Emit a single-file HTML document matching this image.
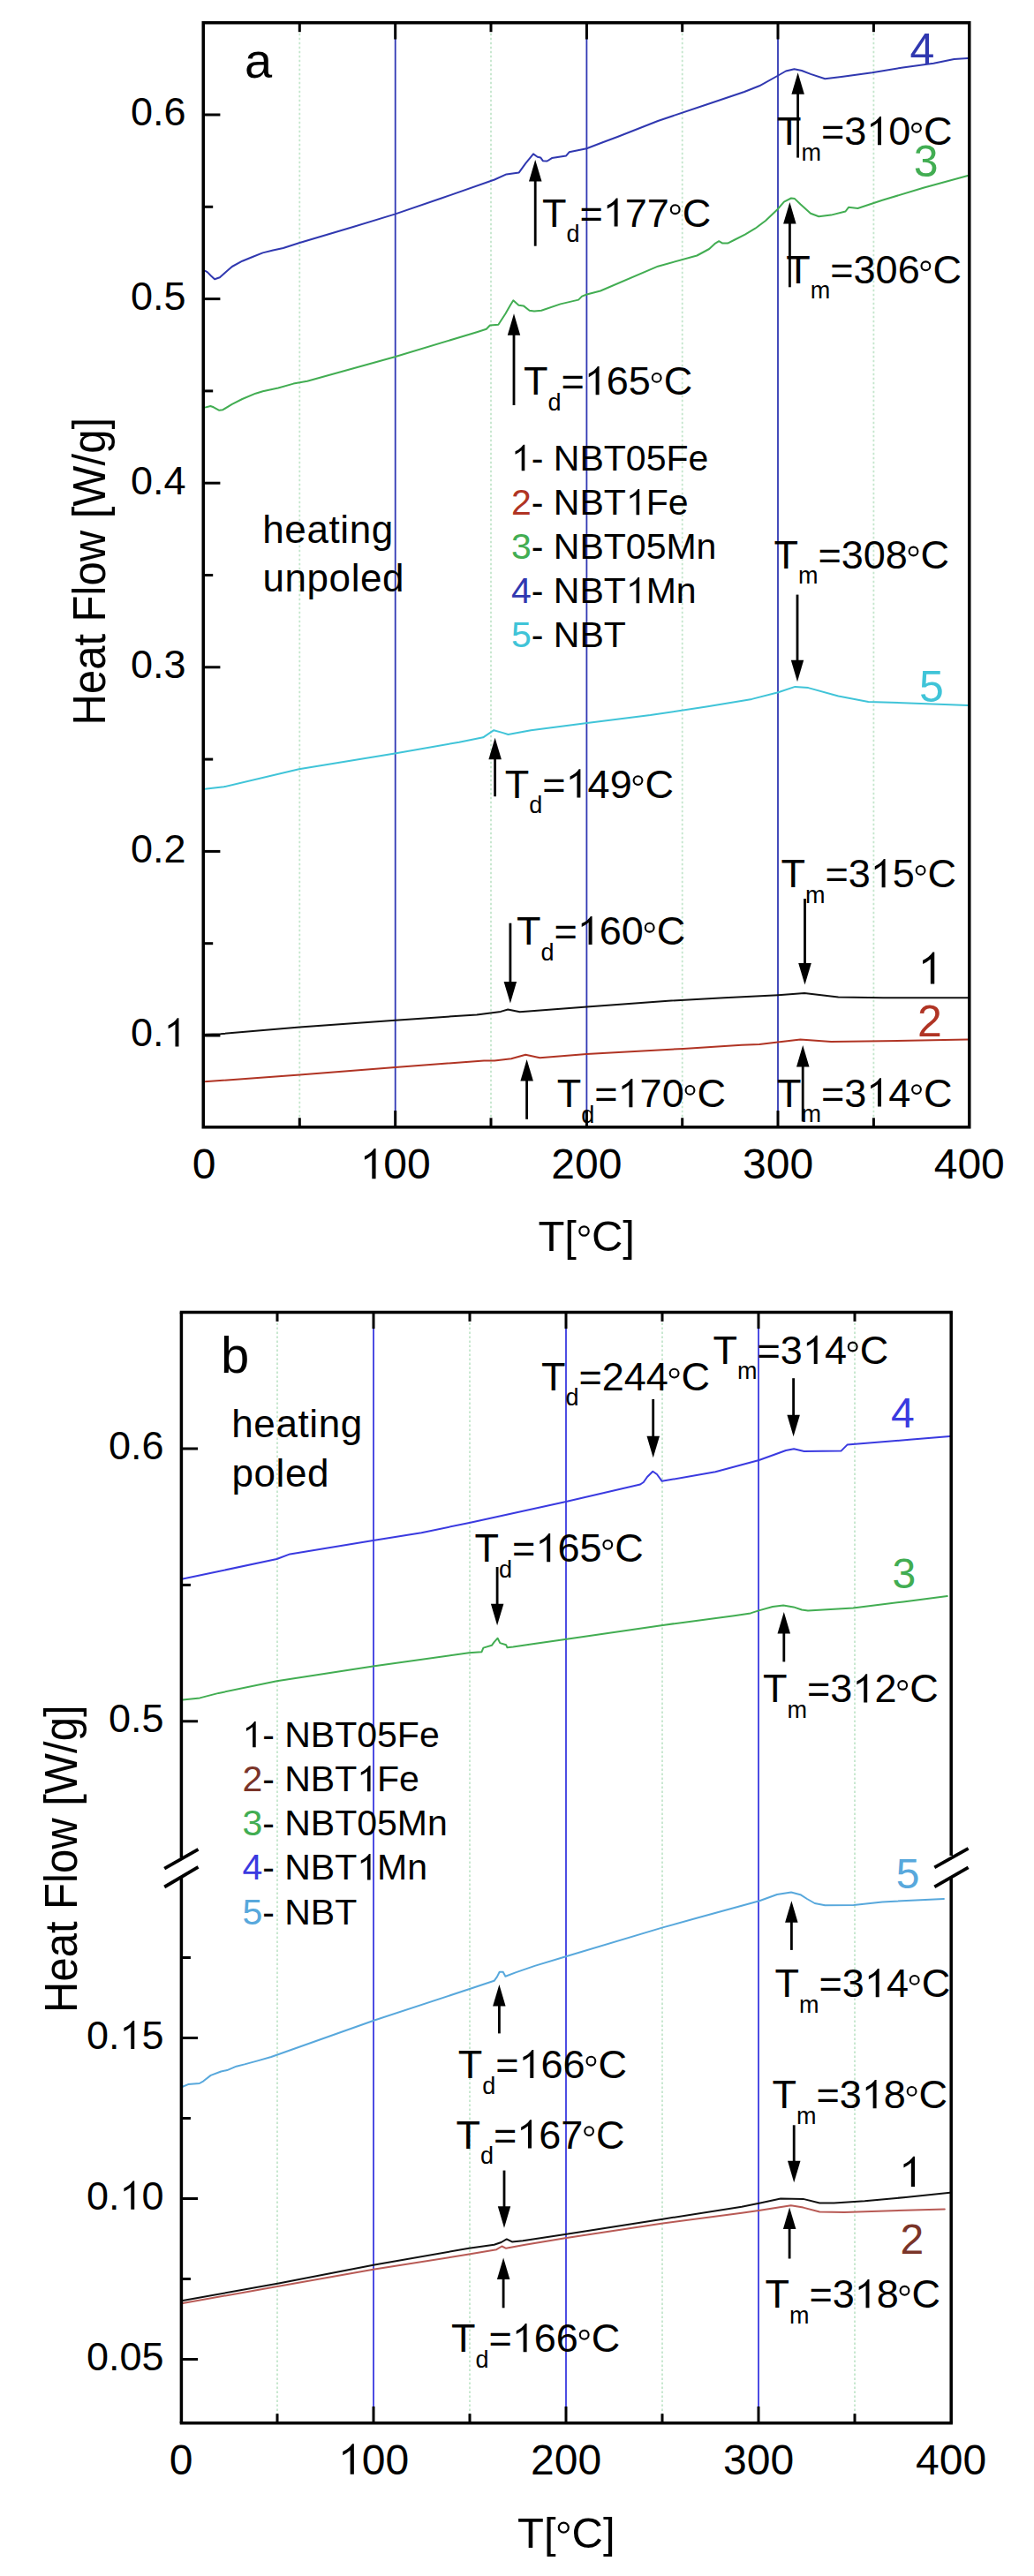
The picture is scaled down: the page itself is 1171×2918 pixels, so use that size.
<!DOCTYPE html>
<html><head><meta charset="utf-8"><style>
html,body{margin:0;padding:0;background:#fff;}
svg{display:block;}
text{font-family:"Liberation Sans", sans-serif;font-kerning:none;}
</style></head><body>
<svg width="1171" height="2918" viewBox="0 0 1171 2918">
<rect x="0" y="0" width="1171" height="2918" fill="#fff"/>
<line x1="339.3" y1="27.8" x2="339.3" y2="1274.8" stroke="#c4e6cc" stroke-width="1.8" stroke-dasharray="2.5 2.5"/>
<line x1="556.0" y1="27.8" x2="556.0" y2="1274.8" stroke="#c4e6cc" stroke-width="1.8" stroke-dasharray="2.5 2.5"/>
<line x1="772.7" y1="27.8" x2="772.7" y2="1274.8" stroke="#c4e6cc" stroke-width="1.8" stroke-dasharray="2.5 2.5"/>
<line x1="989.4" y1="27.8" x2="989.4" y2="1274.8" stroke="#c4e6cc" stroke-width="1.8" stroke-dasharray="2.5 2.5"/>
<line x1="447.7" y1="25.8" x2="447.7" y2="1276.8" stroke="#3038b4" stroke-width="1.8"/>
<line x1="664.4" y1="25.8" x2="664.4" y2="1276.8" stroke="#3038b4" stroke-width="1.8"/>
<line x1="881.0" y1="25.8" x2="881.0" y2="1276.8" stroke="#3038b4" stroke-width="1.8"/>
<polyline points="232.0,893.8 253.5,891.3 338.6,871.3 447.1,853.4 520.0,840.7 547.1,835.3 555.2,829.9 559.3,827.2 568.7,829.9 575.5,832.0 601.2,827.2 664.9,819.0 736.6,810.1 800.0,800.6 851.5,791.9 881.3,784.3 900.4,777.9 915.3,779.1 949.4,788.5 983.4,794.9 1043.0,797.0 1096.0,799.1" fill="none" stroke="#40c4d8" stroke-width="2.0" stroke-linejoin="round" stroke-linecap="round"/>
<polyline points="231.5,1225.3 339.4,1217.6 447.7,1209.0 548.0,1201.5 560.0,1201.4 579.0,1199.3 595.2,1194.7 611.4,1198.2 664.3,1193.9 773.9,1187.9 840.0,1183.8 860.0,1182.9 880.9,1180.6 906.4,1177.6 941.2,1179.9 999.3,1179.2 1096.0,1177.6" fill="none" stroke="#b03424" stroke-width="2.0" stroke-linejoin="round" stroke-linecap="round"/>
<polyline points="232.6,1171.8 249.7,1171.2 339.4,1163.4 447.7,1155.7 540.0,1149.4 567.1,1145.9 575.2,1143.5 588.7,1146.2 664.6,1140.5 756.6,1133.7 820.0,1130.2 881.3,1127.2 911.0,1125.1 949.4,1129.4 1000.4,1130.2 1096.0,1130.2" fill="none" stroke="#111" stroke-width="2.0" stroke-linejoin="round" stroke-linecap="round"/>
<polyline points="232.0,461.6 238.4,460.0 241.9,461.3 248.3,464.8 252.4,464.2 262.8,457.9 274.4,452.0 289.5,445.7 297.6,443.3 315.0,439.5 332.4,434.6 348.0,431.7 447.1,404.3 540.0,376.2 550.8,372.8 554.9,368.5 564.4,367.7 572.5,355.2 577.9,345.7 581.3,340.3 587.4,345.7 592.8,346.4 599.6,351.8 605.0,352.5 613.1,351.8 634.8,344.4 655.1,339.6 659.1,335.6 664.6,333.5 680.0,329.5 745.1,301.7 789.3,289.5 803.2,282.0 810.2,275.6 814.2,273.2 818.3,275.6 824.1,275.6 832.2,271.5 843.8,265.7 855.4,258.7 867.0,250.0 881.0,236.7 887.9,228.6 896.0,224.5 900.0,225.1 906.4,231.3 918.0,241.8 927.3,245.3 941.2,243.6 957.5,239.5 961.0,234.8 971.4,236.0 999.3,226.7 1045.7,212.8 1096.0,199.0" fill="none" stroke="#42ad52" stroke-width="2.0" stroke-linejoin="round" stroke-linecap="round"/>
<polyline points="232.0,306.7 235.0,308.4 239.0,312.5 243.1,316.2 248.9,314.2 255.9,307.9 262.8,302.0 274.4,295.7 286.0,291.0 297.6,286.4 309.2,283.5 320.8,281.0 338.6,275.3 400.0,257.0 447.1,242.6 500.0,224.5 560.0,203.5 573.5,197.4 587.8,195.4 595.2,185.2 604.0,174.4 608.7,177.8 612.1,178.4 614.8,182.2 619.6,182.5 625.0,179.1 641.2,176.4 644.6,172.3 664.3,168.3 681.9,161.5 700.0,154.7 745.1,137.0 800.0,118.5 843.0,104.0 860.0,97.3 881.3,85.5 890.0,80.5 899.5,78.3 908.0,80.0 918.0,83.9 934.3,89.2 952.9,86.9 987.7,82.2 1022.5,76.4 1057.3,71.8 1080.5,67.1 1096.0,66.0" fill="none" stroke="#3038b0" stroke-width="2.0" stroke-linejoin="round" stroke-linecap="round"/>
<rect x="230.25" y="25.75" width="867.5" height="1251.05" fill="none" stroke="#000" stroke-width="3.5"/>
<line x1="339.3" y1="25.8" x2="339.3" y2="36.2" stroke="#000" stroke-width="3"/>
<line x1="339.3" y1="1276.8" x2="339.3" y2="1266.3" stroke="#000" stroke-width="3"/>
<line x1="447.7" y1="25.8" x2="447.7" y2="44.5" stroke="#000" stroke-width="3"/>
<line x1="447.7" y1="1276.8" x2="447.7" y2="1258.1" stroke="#000" stroke-width="3"/>
<line x1="556.0" y1="25.8" x2="556.0" y2="36.2" stroke="#000" stroke-width="3"/>
<line x1="556.0" y1="1276.8" x2="556.0" y2="1266.3" stroke="#000" stroke-width="3"/>
<line x1="664.4" y1="25.8" x2="664.4" y2="44.5" stroke="#000" stroke-width="3"/>
<line x1="664.4" y1="1276.8" x2="664.4" y2="1258.1" stroke="#000" stroke-width="3"/>
<line x1="772.7" y1="25.8" x2="772.7" y2="36.2" stroke="#000" stroke-width="3"/>
<line x1="772.7" y1="1276.8" x2="772.7" y2="1266.3" stroke="#000" stroke-width="3"/>
<line x1="881.0" y1="25.8" x2="881.0" y2="44.5" stroke="#000" stroke-width="3"/>
<line x1="881.0" y1="1276.8" x2="881.0" y2="1258.1" stroke="#000" stroke-width="3"/>
<line x1="989.4" y1="25.8" x2="989.4" y2="36.2" stroke="#000" stroke-width="3"/>
<line x1="989.4" y1="1276.8" x2="989.4" y2="1266.3" stroke="#000" stroke-width="3"/>
<line x1="230.2" y1="1173.0" x2="249.4" y2="1173.0" stroke="#000" stroke-width="3"/>
<line x1="230.2" y1="1068.7" x2="241.2" y2="1068.7" stroke="#000" stroke-width="3"/>
<line x1="230.2" y1="964.4" x2="249.4" y2="964.4" stroke="#000" stroke-width="3"/>
<line x1="230.2" y1="860.1" x2="241.2" y2="860.1" stroke="#000" stroke-width="3"/>
<line x1="230.2" y1="755.8" x2="249.4" y2="755.8" stroke="#000" stroke-width="3"/>
<line x1="230.2" y1="651.5" x2="241.2" y2="651.5" stroke="#000" stroke-width="3"/>
<line x1="230.2" y1="547.2" x2="249.4" y2="547.2" stroke="#000" stroke-width="3"/>
<line x1="230.2" y1="442.9" x2="241.2" y2="442.9" stroke="#000" stroke-width="3"/>
<line x1="230.2" y1="338.6" x2="249.4" y2="338.6" stroke="#000" stroke-width="3"/>
<line x1="230.2" y1="234.3" x2="241.2" y2="234.3" stroke="#000" stroke-width="3"/>
<line x1="230.2" y1="130.0" x2="249.4" y2="130.0" stroke="#000" stroke-width="3"/>
<text x="148.1" y="142.4" font-size="45" fill="#000">0.6</text>
<text x="148.1" y="351.0" font-size="45" fill="#000">0.5</text>
<text x="148.1" y="559.6" font-size="45" fill="#000">0.4</text>
<text x="148.1" y="768.2" font-size="45" fill="#000">0.3</text>
<text x="148.1" y="976.8" font-size="45" fill="#000">0.2</text>
<path d="M.373 0L.285 0L.285 .56Q.2 .49 .11 .448L.11 .533Q.26 .6 .335 .716L.373 .716Z" fill="#000" transform="translate(185.67,1185.40) scale(45,-45)"/>
<text x="148.1" y="1185.4" font-size="45" fill="#000">0. </text>
<text x="217.7" y="1335.3" font-size="48" fill="#000">0</text>
<path d="M.373 0L.285 0L.285 .56Q.2 .49 .11 .448L.11 .533Q.26 .6 .335 .716L.373 .716Z" fill="#000" transform="translate(407.64,1335.30) scale(48,-48)"/>
<text x="407.6" y="1335.3" font-size="48" fill="#000"> 00</text>
<text x="624.3" y="1335.3" font-size="48" fill="#000">200</text>
<text x="841.0" y="1335.3" font-size="48" fill="#000">300</text>
<text x="1057.7" y="1335.3" font-size="48" fill="#000">400</text>
<text x="614.0" y="256.6" font-size="45" fill="#000">T</text>
<text x="641.5" y="274.0" font-size="27" fill="#000">d</text>
<path d="M.373 0L.285 0L.285 .56Q.2 .49 .11 .448L.11 .533Q.26 .6 .335 .716L.373 .716Z" fill="#000" transform="translate(682.79,256.60) scale(45,-45)"/>
<text x="656.5" y="256.6" font-size="45" fill="#000">= 77</text>
<circle cx="764.7" cy="237.2" r="4.9" fill="none" stroke="#000" stroke-width="2.1"/>
<text x="772.7" y="256.6" font-size="45" fill="#000">C</text>
<text x="879.9" y="164.2" font-size="45" fill="#000">T</text>
<text x="907.4" y="181.6" font-size="27" fill="#000">m</text>
<path d="M.373 0L.285 0L.285 .56Q.2 .49 .11 .448L.11 .533Q.26 .6 .335 .716L.373 .716Z" fill="#000" transform="translate(981.20,164.20) scale(45,-45)"/>
<text x="929.9" y="164.2" font-size="45" fill="#000">=3 0</text>
<circle cx="1038.0" cy="144.8" r="4.9" fill="none" stroke="#000" stroke-width="2.1"/>
<text x="1046.0" y="164.2" font-size="45" fill="#000">C</text>
<text x="890.3" y="320.7" font-size="45" fill="#000">T</text>
<text x="917.8" y="338.1" font-size="27" fill="#000">m</text>
<text x="940.3" y="320.7" font-size="45" fill="#000">=306</text>
<circle cx="1048.4" cy="301.3" r="4.9" fill="none" stroke="#000" stroke-width="2.1"/>
<text x="1056.4" y="320.7" font-size="45" fill="#000">C</text>
<text x="593.0" y="447.3" font-size="45" fill="#000">T</text>
<text x="620.5" y="464.7" font-size="27" fill="#000">d</text>
<path d="M.373 0L.285 0L.285 .56Q.2 .49 .11 .448L.11 .533Q.26 .6 .335 .716L.373 .716Z" fill="#000" transform="translate(661.79,447.30) scale(45,-45)"/>
<text x="635.5" y="447.3" font-size="45" fill="#000">= 65</text>
<circle cx="743.7" cy="427.9" r="4.9" fill="none" stroke="#000" stroke-width="2.1"/>
<text x="751.7" y="447.3" font-size="45" fill="#000">C</text>
<text x="876.4" y="643.9" font-size="45" fill="#000">T</text>
<text x="903.9" y="661.3" font-size="27" fill="#000">m</text>
<text x="926.4" y="643.9" font-size="45" fill="#000">=308</text>
<circle cx="1034.5" cy="624.5" r="4.9" fill="none" stroke="#000" stroke-width="2.1"/>
<text x="1042.5" y="643.9" font-size="45" fill="#000">C</text>
<text x="571.8" y="903.5" font-size="45" fill="#000">T</text>
<text x="599.3" y="920.9" font-size="27" fill="#000">d</text>
<path d="M.373 0L.285 0L.285 .56Q.2 .49 .11 .448L.11 .533Q.26 .6 .335 .716L.373 .716Z" fill="#000" transform="translate(640.59,903.50) scale(45,-45)"/>
<text x="614.3" y="903.5" font-size="45" fill="#000">= 49</text>
<circle cx="722.5" cy="884.1" r="4.9" fill="none" stroke="#000" stroke-width="2.1"/>
<text x="730.5" y="903.5" font-size="45" fill="#000">C</text>
<text x="884.5" y="1005.3" font-size="45" fill="#000">T</text>
<text x="912.0" y="1022.7" font-size="27" fill="#000">m</text>
<path d="M.373 0L.285 0L.285 .56Q.2 .49 .11 .448L.11 .533Q.26 .6 .335 .716L.373 .716Z" fill="#000" transform="translate(985.80,1005.30) scale(45,-45)"/>
<text x="934.5" y="1005.3" font-size="45" fill="#000">=3 5</text>
<circle cx="1042.6" cy="985.9" r="4.9" fill="none" stroke="#000" stroke-width="2.1"/>
<text x="1050.6" y="1005.3" font-size="45" fill="#000">C</text>
<text x="585.0" y="1070.1" font-size="45" fill="#000">T</text>
<text x="612.5" y="1087.5" font-size="27" fill="#000">d</text>
<path d="M.373 0L.285 0L.285 .56Q.2 .49 .11 .448L.11 .533Q.26 .6 .335 .716L.373 .716Z" fill="#000" transform="translate(653.79,1070.10) scale(45,-45)"/>
<text x="627.5" y="1070.1" font-size="45" fill="#000">= 60</text>
<circle cx="735.7" cy="1050.7" r="4.9" fill="none" stroke="#000" stroke-width="2.1"/>
<text x="743.7" y="1070.1" font-size="45" fill="#000">C</text>
<text x="630.8" y="1254.3" font-size="45" fill="#000">T</text>
<text x="658.3" y="1271.7" font-size="27" fill="#000">d</text>
<path d="M.373 0L.285 0L.285 .56Q.2 .49 .11 .448L.11 .533Q.26 .6 .335 .716L.373 .716Z" fill="#000" transform="translate(699.59,1254.30) scale(45,-45)"/>
<text x="673.3" y="1254.3" font-size="45" fill="#000">= 70</text>
<circle cx="781.5" cy="1234.9" r="4.9" fill="none" stroke="#000" stroke-width="2.1"/>
<text x="789.5" y="1254.3" font-size="45" fill="#000">C</text>
<text x="879.9" y="1253.5" font-size="45" fill="#000">T</text>
<text x="907.4" y="1270.9" font-size="27" fill="#000">m</text>
<path d="M.373 0L.285 0L.285 .56Q.2 .49 .11 .448L.11 .533Q.26 .6 .335 .716L.373 .716Z" fill="#000" transform="translate(981.20,1253.50) scale(45,-45)"/>
<text x="929.9" y="1253.5" font-size="45" fill="#000">=3 4</text>
<circle cx="1038.0" cy="1234.1" r="4.9" fill="none" stroke="#000" stroke-width="2.1"/>
<text x="1046.0" y="1253.5" font-size="45" fill="#000">C</text>
<line x1="606.2" y1="278.7" x2="606.2" y2="203.5" stroke="#000" stroke-width="2.8"/>
<polygon points="606.2,181.0 599.0,205.5 613.5,205.5" fill="#000"/>
<line x1="903.6" y1="178.6" x2="903.6" y2="104.7" stroke="#000" stroke-width="2.8"/>
<polygon points="903.6,82.2 896.4,106.7 910.9,106.7" fill="#000"/>
<line x1="894.4" y1="325.3" x2="894.4" y2="251.5" stroke="#000" stroke-width="2.8"/>
<polygon points="894.4,229.0 887.1,253.5 901.6,253.5" fill="#000"/>
<line x1="582.0" y1="459.0" x2="582.0" y2="377.8" stroke="#000" stroke-width="2.8"/>
<polygon points="582.0,355.3 574.8,379.8 589.2,379.8" fill="#000"/>
<line x1="903.0" y1="673.6" x2="903.0" y2="749.7" stroke="#000" stroke-width="2.8"/>
<polygon points="903.0,772.2 895.8,747.7 910.2,747.7" fill="#000"/>
<line x1="560.6" y1="902.2" x2="560.6" y2="858.3" stroke="#000" stroke-width="2.8"/>
<polygon points="560.6,835.8 553.4,860.3 567.9,860.3" fill="#000"/>
<line x1="911.5" y1="1018.0" x2="911.5" y2="1093.0" stroke="#000" stroke-width="2.8"/>
<polygon points="911.5,1115.5 904.2,1091.0 918.8,1091.0" fill="#000"/>
<line x1="577.9" y1="1045.7" x2="577.9" y2="1113.9" stroke="#000" stroke-width="2.8"/>
<polygon points="577.9,1136.4 570.6,1111.9 585.1,1111.9" fill="#000"/>
<line x1="596.6" y1="1267.8" x2="596.6" y2="1222.6" stroke="#000" stroke-width="2.8"/>
<polygon points="596.6,1200.1 589.4,1224.6 603.9,1224.6" fill="#000"/>
<line x1="909.2" y1="1270.4" x2="909.2" y2="1206.4" stroke="#000" stroke-width="2.8"/>
<polygon points="909.2,1183.9 902.0,1208.4 916.5,1208.4" fill="#000"/>
<text x="1030.6" y="73.0" font-size="50" fill="#3038b0">4</text>
<text x="1034.7" y="199.5" font-size="50" fill="#42ad52">3</text>
<text x="1041.0" y="794.9" font-size="50" fill="#40c4d8">5</text>
<path d="M.373 0L.285 0L.285 .56Q.2 .49 .11 .448L.11 .533Q.26 .6 .335 .716L.373 .716Z" fill="#000" transform="translate(1039.60,1114.40) scale(50,-50)"/>
<text x="1039.6" y="1114.4" font-size="50" fill="#000"> </text>
<text x="1039.0" y="1173.6" font-size="50" fill="#b03424">2</text>
<path d="M.373 0L.285 0L.285 .56Q.2 .49 .11 .448L.11 .533Q.26 .6 .335 .716L.373 .716Z" fill="#000" transform="translate(579.00,533.20) scale(41,-41)"/>
<text x="579.0" y="533.2" font-size="41"><tspan fill="#000"> </tspan>- NBT05Fe</text>
<path d="M.373 0L.285 0L.285 .56Q.2 .49 .11 .448L.11 .533Q.26 .6 .335 .716L.373 .716Z" fill="#000" transform="translate(708.85,583.25) scale(41,-41)"/>
<text x="579.0" y="583.2" font-size="41"><tspan fill="#b03424">2</tspan>- NBT Fe</text>
<text x="579.0" y="633.3" font-size="41"><tspan fill="#42ad52">3</tspan>- NBT05Mn</text>
<path d="M.373 0L.285 0L.285 .56Q.2 .49 .11 .448L.11 .533Q.26 .6 .335 .716L.373 .716Z" fill="#000" transform="translate(708.85,683.35) scale(41,-41)"/>
<text x="579.0" y="683.4" font-size="41"><tspan fill="#3038b0">4</tspan>- NBT Mn</text>
<text x="579.0" y="733.4" font-size="41"><tspan fill="#40c4d8">5</tspan>- NBT</text>
<text x="297.3" y="615.1" font-size="44" fill="#000" letter-spacing="0.6">heating</text>
<text x="297.4" y="669.9" font-size="44" fill="#000" letter-spacing="0.6">unpoled</text>
<text x="277.1" y="88.4" font-size="56" fill="#000">a</text>
<text x="609.4" y="1416.9" font-size="49" fill="#000">T[</text>
<circle cx="661.5" cy="1394.5" r="5.2" fill="none" stroke="#000" stroke-width="2.2"/>
<text x="669.9" y="1416.9" font-size="49" fill="#000">C]</text>
<text transform="translate(118.7,821.5) rotate(-90) scale(1,1.045)" x="0" y="0" font-size="49">Heat Flow [W/g]</text>
<line x1="314.0" y1="1488.4" x2="314.0" y2="2742.7" stroke="#c4e6cc" stroke-width="1.8" stroke-dasharray="2.5 2.5"/>
<line x1="532.0" y1="1488.4" x2="532.0" y2="2742.7" stroke="#c4e6cc" stroke-width="1.8" stroke-dasharray="2.5 2.5"/>
<line x1="750.0" y1="1488.4" x2="750.0" y2="2742.7" stroke="#c4e6cc" stroke-width="1.8" stroke-dasharray="2.5 2.5"/>
<line x1="968.0" y1="1488.4" x2="968.0" y2="2742.7" stroke="#c4e6cc" stroke-width="1.8" stroke-dasharray="2.5 2.5"/>
<line x1="423.0" y1="1486.4" x2="423.0" y2="2744.7" stroke="#3a3ae0" stroke-width="1.8"/>
<line x1="641.0" y1="1486.4" x2="641.0" y2="2744.7" stroke="#3a3ae0" stroke-width="1.8"/>
<line x1="859.0" y1="1486.4" x2="859.0" y2="2744.7" stroke="#3a3ae0" stroke-width="1.8"/>
<polyline points="206.7,2363.7 213.1,2361.1 225.9,2360.0 230.5,2357.3 238.7,2350.9 250.3,2346.5 257.2,2345.1 267.7,2340.7 277.0,2338.4 290.9,2334.6 307.1,2330.0 315.6,2327.0 424.1,2288.5 531.1,2253.3 559.6,2243.8 563.0,2239.1 565.7,2233.7 569.7,2233.7 572.4,2238.7 583.9,2234.4 605.6,2226.9 640.0,2216.5 750.6,2183.4 788.9,2172.8 860.0,2153.2 880.0,2146.0 896.0,2143.5 906.4,2146.2 914.0,2151.0 922.7,2156.0 934.3,2158.3 966.8,2157.9 999.3,2154.4 1068.9,2150.9" fill="none" stroke="#58a8dc" stroke-width="2.0" stroke-linejoin="round" stroke-linecap="round"/>
<polyline points="207.0,2609.0 315.6,2589.8 424.1,2570.6 531.1,2553.6 562.3,2548.2 568.4,2544.5 573.1,2546.8 594.8,2542.8 640.0,2535.3 750.6,2518.5 840.0,2506.7 860.9,2503.7 895.7,2498.3 909.6,2500.6 928.2,2505.5 956.1,2506.0 1002.5,2504.4 1069.8,2502.5" fill="none" stroke="#b85a55" stroke-width="2.0" stroke-linejoin="round" stroke-linecap="round"/>
<polyline points="207.0,2606.0 315.6,2586.4 424.1,2565.5 531.1,2546.8 559.6,2542.8 567.7,2540.0 573.8,2536.4 579.9,2539.4 592.1,2538.3 640.0,2531.0 750.6,2513.7 840.0,2499.7 860.9,2495.5 884.1,2490.4 909.6,2490.9 928.2,2495.5 944.5,2495.5 979.3,2493.2 1025.7,2489.0 1076.0,2483.8" fill="none" stroke="#111" stroke-width="2.0" stroke-linejoin="round" stroke-linecap="round"/>
<polyline points="207.0,1925.5 226.3,1923.4 247.6,1917.9 313.5,1904.3 424.1,1887.2 531.1,1872.2 545.4,1871.3 547.4,1866.6 556.9,1863.8 559.6,1860.1 563.6,1855.7 566.3,1861.1 573.1,1863.2 574.5,1866.3 581.2,1865.5 601.5,1862.5 640.0,1857.0 750.6,1840.9 831.5,1830.2 850.0,1827.4 859.3,1824.4 875.0,1820.0 887.1,1818.6 898.7,1820.4 908.0,1823.5 915.0,1824.4 966.1,1821.4 1023.0,1814.5 1072.8,1808.1" fill="none" stroke="#42ad52" stroke-width="2.0" stroke-linejoin="round" stroke-linecap="round"/>
<polyline points="207.0,1788.5 247.6,1780.0 313.5,1766.0 328.4,1760.4 424.1,1744.7 477.3,1736.2 532.7,1724.7 640.0,1701.3 725.1,1681.5 728.8,1679.0 733.0,1673.0 739.3,1666.7 744.0,1670.0 749.7,1677.8 810.2,1667.2 840.0,1659.3 859.6,1654.0 878.3,1647.2 890.0,1643.0 899.1,1641.2 910.7,1644.0 952.5,1643.6 959.5,1636.6 1030.0,1630.8 1076.0,1627.0" fill="none" stroke="#3a3ae0" stroke-width="2.0" stroke-linejoin="round" stroke-linecap="round"/>
<line x1="203.7" y1="1486.4" x2="1078.9" y2="1486.4" stroke="#000" stroke-width="3.5"/>
<line x1="203.7" y1="2744.7" x2="1078.9" y2="2744.7" stroke="#000" stroke-width="3.5"/>
<line x1="205.4" y1="1486.4" x2="205.4" y2="2104.4" stroke="#000" stroke-width="3.5"/>
<line x1="205.4" y1="2127.0" x2="205.4" y2="2744.7" stroke="#000" stroke-width="3.5"/>
<line x1="1077.2" y1="1486.4" x2="1077.2" y2="2102.0" stroke="#000" stroke-width="3.5"/>
<line x1="1077.2" y1="2126.9" x2="1077.2" y2="2744.7" stroke="#000" stroke-width="3.5"/>
<line x1="186.2" y1="2116.6" x2="224.5" y2="2094.8" stroke="#000" stroke-width="3.8"/>
<line x1="186.2" y1="2137.5" x2="224.5" y2="2114.8" stroke="#000" stroke-width="3.8"/>
<line x1="1058.3" y1="2115.3" x2="1096.6" y2="2093.8" stroke="#000" stroke-width="3.8"/>
<line x1="1058.3" y1="2137.3" x2="1096.6" y2="2115.3" stroke="#000" stroke-width="3.8"/>
<line x1="314.0" y1="1486.4" x2="314.0" y2="1496.9" stroke="#000" stroke-width="3"/>
<line x1="314.0" y1="2744.7" x2="314.0" y2="2734.2" stroke="#000" stroke-width="3"/>
<line x1="423.0" y1="1486.4" x2="423.0" y2="1505.1" stroke="#000" stroke-width="3"/>
<line x1="423.0" y1="2744.7" x2="423.0" y2="2726.0" stroke="#000" stroke-width="3"/>
<line x1="532.0" y1="1486.4" x2="532.0" y2="1496.9" stroke="#000" stroke-width="3"/>
<line x1="532.0" y1="2744.7" x2="532.0" y2="2734.2" stroke="#000" stroke-width="3"/>
<line x1="641.0" y1="1486.4" x2="641.0" y2="1505.1" stroke="#000" stroke-width="3"/>
<line x1="641.0" y1="2744.7" x2="641.0" y2="2726.0" stroke="#000" stroke-width="3"/>
<line x1="750.0" y1="1486.4" x2="750.0" y2="1496.9" stroke="#000" stroke-width="3"/>
<line x1="750.0" y1="2744.7" x2="750.0" y2="2734.2" stroke="#000" stroke-width="3"/>
<line x1="859.0" y1="1486.4" x2="859.0" y2="1505.1" stroke="#000" stroke-width="3"/>
<line x1="859.0" y1="2744.7" x2="859.0" y2="2726.0" stroke="#000" stroke-width="3"/>
<line x1="968.0" y1="1486.4" x2="968.0" y2="1496.9" stroke="#000" stroke-width="3"/>
<line x1="968.0" y1="2744.7" x2="968.0" y2="2734.2" stroke="#000" stroke-width="3"/>
<line x1="205.4" y1="1641.0" x2="224.1" y2="1641.0" stroke="#000" stroke-width="3"/>
<line x1="205.4" y1="1795.4" x2="215.9" y2="1795.4" stroke="#000" stroke-width="3"/>
<line x1="205.4" y1="1949.8" x2="224.1" y2="1949.8" stroke="#000" stroke-width="3"/>
<line x1="205.4" y1="2217.5" x2="215.9" y2="2217.5" stroke="#000" stroke-width="3"/>
<line x1="205.4" y1="2308.5" x2="224.1" y2="2308.5" stroke="#000" stroke-width="3"/>
<line x1="205.4" y1="2399.5" x2="215.9" y2="2399.5" stroke="#000" stroke-width="3"/>
<line x1="205.4" y1="2490.5" x2="224.1" y2="2490.5" stroke="#000" stroke-width="3"/>
<line x1="205.4" y1="2581.5" x2="215.9" y2="2581.5" stroke="#000" stroke-width="3"/>
<line x1="205.4" y1="2672.5" x2="224.1" y2="2672.5" stroke="#000" stroke-width="3"/>
<text x="122.9" y="1653.2" font-size="45" fill="#000">0.6</text>
<text x="122.9" y="1962.0" font-size="45" fill="#000">0.5</text>
<path d="M.373 0L.285 0L.285 .56Q.2 .49 .11 .448L.11 .533Q.26 .6 .335 .716L.373 .716Z" fill="#000" transform="translate(135.45,2321.10) scale(45,-45)"/>
<text x="97.9" y="2321.1" font-size="45" fill="#000">0. 5</text>
<path d="M.373 0L.285 0L.285 .56Q.2 .49 .11 .448L.11 .533Q.26 .6 .335 .716L.373 .716Z" fill="#000" transform="translate(135.45,2502.70) scale(45,-45)"/>
<text x="97.9" y="2502.7" font-size="45" fill="#000">0. 0</text>
<text x="97.9" y="2684.7" font-size="45" fill="#000">0.05</text>
<text x="191.7" y="2802.7" font-size="48" fill="#000">0</text>
<path d="M.373 0L.285 0L.285 .56Q.2 .49 .11 .448L.11 .533Q.26 .6 .335 .716L.373 .716Z" fill="#000" transform="translate(382.96,2802.70) scale(48,-48)"/>
<text x="383.0" y="2802.7" font-size="48" fill="#000"> 00</text>
<text x="601.0" y="2802.7" font-size="48" fill="#000">200</text>
<text x="819.0" y="2802.7" font-size="48" fill="#000">300</text>
<text x="1037.0" y="2802.7" font-size="48" fill="#000">400</text>
<text x="612.9" y="1575.0" font-size="45" fill="#000">T</text>
<text x="640.4" y="1592.4" font-size="27" fill="#000">d</text>
<text x="655.4" y="1575.0" font-size="45" fill="#000">=244</text>
<circle cx="763.6" cy="1555.6" r="4.9" fill="none" stroke="#000" stroke-width="2.1"/>
<text x="771.6" y="1575.0" font-size="45" fill="#000">C</text>
<text x="807.6" y="1544.9" font-size="45" fill="#000">T</text>
<text x="835.1" y="1562.3" font-size="27" fill="#000">m</text>
<path d="M.373 0L.285 0L.285 .56Q.2 .49 .11 .448L.11 .533Q.26 .6 .335 .716L.373 .716Z" fill="#000" transform="translate(908.90,1544.90) scale(45,-45)"/>
<text x="857.6" y="1544.9" font-size="45" fill="#000">=3 4</text>
<circle cx="965.7" cy="1525.5" r="4.9" fill="none" stroke="#000" stroke-width="2.1"/>
<text x="973.7" y="1544.9" font-size="45" fill="#000">C</text>
<text x="537.6" y="1769.2" font-size="45" fill="#000">T</text>
<text x="565.1" y="1786.6" font-size="27" fill="#000">d</text>
<path d="M.373 0L.285 0L.285 .56Q.2 .49 .11 .448L.11 .533Q.26 .6 .335 .716L.373 .716Z" fill="#000" transform="translate(606.39,1769.20) scale(45,-45)"/>
<text x="580.1" y="1769.2" font-size="45" fill="#000">= 65</text>
<circle cx="688.3" cy="1749.8" r="4.9" fill="none" stroke="#000" stroke-width="2.1"/>
<text x="696.3" y="1769.2" font-size="45" fill="#000">C</text>
<text x="864.1" y="1928.4" font-size="45" fill="#000">T</text>
<text x="891.6" y="1945.8" font-size="27" fill="#000">m</text>
<path d="M.373 0L.285 0L.285 .56Q.2 .49 .11 .448L.11 .533Q.26 .6 .335 .716L.373 .716Z" fill="#000" transform="translate(965.40,1928.40) scale(45,-45)"/>
<text x="914.1" y="1928.4" font-size="45" fill="#000">=3 2</text>
<circle cx="1022.2" cy="1909.0" r="4.9" fill="none" stroke="#000" stroke-width="2.1"/>
<text x="1030.2" y="1928.4" font-size="45" fill="#000">C</text>
<text x="877.6" y="2262.3" font-size="45" fill="#000">T</text>
<text x="905.1" y="2279.7" font-size="27" fill="#000">m</text>
<path d="M.373 0L.285 0L.285 .56Q.2 .49 .11 .448L.11 .533Q.26 .6 .335 .716L.373 .716Z" fill="#000" transform="translate(978.90,2262.30) scale(45,-45)"/>
<text x="927.6" y="2262.3" font-size="45" fill="#000">=3 4</text>
<circle cx="1035.7" cy="2242.9" r="4.9" fill="none" stroke="#000" stroke-width="2.1"/>
<text x="1043.7" y="2262.3" font-size="45" fill="#000">C</text>
<text x="518.7" y="2354.1" font-size="45" fill="#000">T</text>
<text x="546.2" y="2371.5" font-size="27" fill="#000">d</text>
<path d="M.373 0L.285 0L.285 .56Q.2 .49 .11 .448L.11 .533Q.26 .6 .335 .716L.373 .716Z" fill="#000" transform="translate(587.49,2354.10) scale(45,-45)"/>
<text x="561.2" y="2354.1" font-size="45" fill="#000">= 66</text>
<circle cx="669.4" cy="2334.7" r="4.9" fill="none" stroke="#000" stroke-width="2.1"/>
<text x="677.4" y="2354.1" font-size="45" fill="#000">C</text>
<text x="874.5" y="2388.3" font-size="45" fill="#000">T</text>
<text x="902.0" y="2405.7" font-size="27" fill="#000">m</text>
<path d="M.373 0L.285 0L.285 .56Q.2 .49 .11 .448L.11 .533Q.26 .6 .335 .716L.373 .716Z" fill="#000" transform="translate(975.80,2388.30) scale(45,-45)"/>
<text x="924.5" y="2388.3" font-size="45" fill="#000">=3 8</text>
<circle cx="1032.6" cy="2368.9" r="4.9" fill="none" stroke="#000" stroke-width="2.1"/>
<text x="1040.6" y="2388.3" font-size="45" fill="#000">C</text>
<text x="516.4" y="2433.5" font-size="45" fill="#000">T</text>
<text x="543.9" y="2450.9" font-size="27" fill="#000">d</text>
<path d="M.373 0L.285 0L.285 .56Q.2 .49 .11 .448L.11 .533Q.26 .6 .335 .716L.373 .716Z" fill="#000" transform="translate(585.19,2433.50) scale(45,-45)"/>
<text x="558.9" y="2433.5" font-size="45" fill="#000">= 67</text>
<circle cx="667.1" cy="2414.1" r="4.9" fill="none" stroke="#000" stroke-width="2.1"/>
<text x="675.1" y="2433.5" font-size="45" fill="#000">C</text>
<text x="866.4" y="2614.2" font-size="45" fill="#000">T</text>
<text x="893.9" y="2631.6" font-size="27" fill="#000">m</text>
<path d="M.373 0L.285 0L.285 .56Q.2 .49 .11 .448L.11 .533Q.26 .6 .335 .716L.373 .716Z" fill="#000" transform="translate(967.70,2614.20) scale(45,-45)"/>
<text x="916.4" y="2614.2" font-size="45" fill="#000">=3 8</text>
<circle cx="1024.5" cy="2594.8" r="4.9" fill="none" stroke="#000" stroke-width="2.1"/>
<text x="1032.5" y="2614.2" font-size="45" fill="#000">C</text>
<text x="511.0" y="2664.2" font-size="45" fill="#000">T</text>
<text x="538.5" y="2681.6" font-size="27" fill="#000">d</text>
<path d="M.373 0L.285 0L.285 .56Q.2 .49 .11 .448L.11 .533Q.26 .6 .335 .716L.373 .716Z" fill="#000" transform="translate(579.79,2664.20) scale(45,-45)"/>
<text x="553.5" y="2664.2" font-size="45" fill="#000">= 66</text>
<circle cx="661.7" cy="2644.8" r="4.9" fill="none" stroke="#000" stroke-width="2.1"/>
<text x="669.7" y="2664.2" font-size="45" fill="#000">C</text>
<line x1="739.7" y1="1585.0" x2="739.7" y2="1628.7" stroke="#000" stroke-width="2.8"/>
<polygon points="739.7,1651.2 732.5,1626.7 747.0,1626.7" fill="#000"/>
<line x1="898.6" y1="1561.2" x2="898.6" y2="1604.8" stroke="#000" stroke-width="2.8"/>
<polygon points="898.6,1627.3 891.4,1602.8 905.9,1602.8" fill="#000"/>
<line x1="563.1" y1="1775.0" x2="563.1" y2="1818.8" stroke="#000" stroke-width="2.8"/>
<polygon points="563.1,1841.3 555.9,1816.8 570.4,1816.8" fill="#000"/>
<line x1="887.8" y1="1882.4" x2="887.8" y2="1848.5" stroke="#000" stroke-width="2.8"/>
<polygon points="887.8,1826.0 880.5,1850.5 895.0,1850.5" fill="#000"/>
<line x1="896.4" y1="2208.9" x2="896.4" y2="2175.7" stroke="#000" stroke-width="2.8"/>
<polygon points="896.4,2153.2 889.1,2177.7 903.6,2177.7" fill="#000"/>
<line x1="565.4" y1="2303.4" x2="565.4" y2="2270.6" stroke="#000" stroke-width="2.8"/>
<polygon points="565.4,2248.1 558.1,2272.6 572.6,2272.6" fill="#000"/>
<line x1="899.2" y1="2407.3" x2="899.2" y2="2449.8" stroke="#000" stroke-width="2.8"/>
<polygon points="899.2,2472.3 892.0,2447.8 906.5,2447.8" fill="#000"/>
<line x1="571.0" y1="2458.6" x2="571.0" y2="2501.3" stroke="#000" stroke-width="2.8"/>
<polygon points="571.0,2523.8 563.8,2499.3 578.2,2499.3" fill="#000"/>
<line x1="894.1" y1="2558.5" x2="894.1" y2="2522.9" stroke="#000" stroke-width="2.8"/>
<polygon points="894.1,2500.4 886.9,2524.9 901.4,2524.9" fill="#000"/>
<line x1="570.1" y1="2614.3" x2="570.1" y2="2579.9" stroke="#000" stroke-width="2.8"/>
<polygon points="570.1,2557.4 562.9,2581.9 577.4,2581.9" fill="#000"/>
<text x="1009.1" y="1617.0" font-size="48" fill="#3a3ae0">4</text>
<text x="1010.5" y="1799.1" font-size="48" fill="#42ad52">3</text>
<text x="1014.7" y="2138.7" font-size="48" fill="#58a8dc">5</text>
<path d="M.373 0L.285 0L.285 .56Q.2 .49 .11 .448L.11 .533Q.26 .6 .335 .716L.373 .716Z" fill="#000" transform="translate(1018.15,2477.00) scale(48,-48)"/>
<text x="1018.2" y="2477.0" font-size="48" fill="#000"> </text>
<text x="1019.4" y="2552.7" font-size="48" fill="#7a3428">2</text>
<path d="M.373 0L.285 0L.285 .56Q.2 .49 .11 .448L.11 .533Q.26 .6 .335 .716L.373 .716Z" fill="#000" transform="translate(274.40,1979.30) scale(41,-41)"/>
<text x="274.4" y="1979.3" font-size="41"><tspan fill="#000"> </tspan>- NBT05Fe</text>
<path d="M.373 0L.285 0L.285 .56Q.2 .49 .11 .448L.11 .533Q.26 .6 .335 .716L.373 .716Z" fill="#000" transform="translate(404.25,2029.35) scale(41,-41)"/>
<text x="274.4" y="2029.3" font-size="41"><tspan fill="#7a3428">2</tspan>- NBT Fe</text>
<text x="274.4" y="2079.4" font-size="41"><tspan fill="#42ad52">3</tspan>- NBT05Mn</text>
<path d="M.373 0L.285 0L.285 .56Q.2 .49 .11 .448L.11 .533Q.26 .6 .335 .716L.373 .716Z" fill="#000" transform="translate(404.25,2129.45) scale(41,-41)"/>
<text x="274.4" y="2129.4" font-size="41"><tspan fill="#3a3ae0">4</tspan>- NBT Mn</text>
<text x="274.4" y="2179.5" font-size="41"><tspan fill="#58a8dc">5</tspan>- NBT</text>
<text x="262.3" y="1628.0" font-size="44" fill="#000" letter-spacing="0.6">heating</text>
<text x="262.4" y="1683.6" font-size="44" fill="#000" letter-spacing="0.6">poled</text>
<text x="250.1" y="1554.8" font-size="58" fill="#000">b</text>
<text x="586.0" y="2886.4" font-size="49" fill="#000">T[</text>
<circle cx="638.3" cy="2863.2" r="5.5" fill="none" stroke="#000" stroke-width="2.2"/>
<text x="647.5" y="2886.4" font-size="49" fill="#000">C]</text>
<text transform="translate(87.4,2280.0) rotate(-90) scale(1,1.045)" x="0" y="0" font-size="49">Heat Flow [W/g]</text>
</svg>
</body></html>
